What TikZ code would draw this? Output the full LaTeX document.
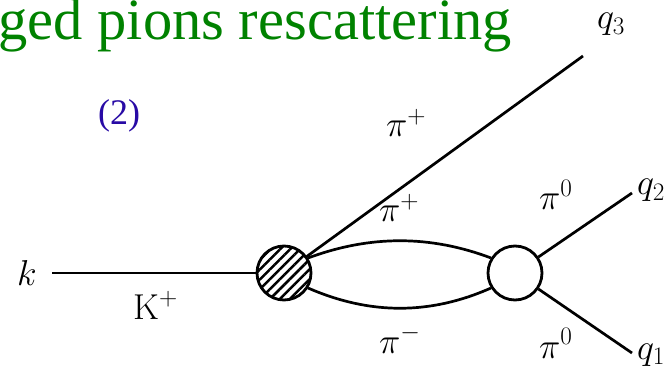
\RequirePackage{fix-cm}
\documentclass[tikz,border=0pt]{standalone}
\usepackage{fontspec}
\newfontfamily\titlefont{Liberation Serif}
\usetikzlibrary{patterns.meta}
\definecolor{titlegreen}{RGB}{0,130,0}
\definecolor{numblue}{RGB}{40,10,165}
\begin{document}
\begin{tikzpicture}[x=1pt,y=-1pt,
  lab/.style={inner sep=0pt, anchor=base west, font=\fontsize{36}{42}\selectfont},
  prop/.style={line width=2.7pt},
  blob/.style={circle, draw, line width=2.8pt, minimum size=54pt, inner sep=0pt}]
\useasboundingbox (0,0) rectangle (669,371);
% title
\node[inner sep=0pt, anchor=base east, text=titlegreen, font=\titlefont\fontsize{58.5}{62}\selectfont] (title) at (512,40) {ged pions rescattering};
\node[inner sep=0pt, text=numblue, font=\titlefont\fontsize{36}{40}\selectfont] (num) at (119,116) {(2)};
% vertices
\node[blob, pattern={Lines[angle=45,distance=7pt,line width=2.5pt]}] (hc) at (284,273) {};
\node[blob, fill=white] (oc) at (515,273) {};
% free ends
\coordinate (kin) at (52,273);
\coordinate (q3e) at (583,56);
\coordinate (q2e) at (632,193);
\coordinate (q1e) at (632,353);
% lines
\draw[prop] (kin) -- (hc);
\draw[prop] (hc) -- (q3e);
\draw[prop] (hc.32) .. controls (370,235) and (430,235) .. (oc.148);
\draw[prop] (hc.-32) .. controls (370,315) and (430,315) .. (oc.-148);
\draw[prop] (oc) -- (q2e);
\draw[prop] (oc) -- (q1e);
% labels
\node[lab] (lk) at (17,285) {$k$};
\node[lab] (lK) at (133,319) {K$^+$};
\node[lab] (lpp1) at (386,137) {$\pi^+$};
\node[lab] (lpp2) at (379,222) {$\pi^+$};
\node[lab] (lpm) at (379,353) {$\pi^-$};
\node[lab] (lp01) at (539,210) {$\pi^0$};
\node[lab] (lp02) at (539,358) {$\pi^0$};
\node[lab] (lq3) at (597,29) {$q_3$};
\node[lab] (lq2) at (637,195) {$q_2$};
\node[lab] (lq1) at (637,359) {$q_1$};
\end{tikzpicture}
\end{document}
